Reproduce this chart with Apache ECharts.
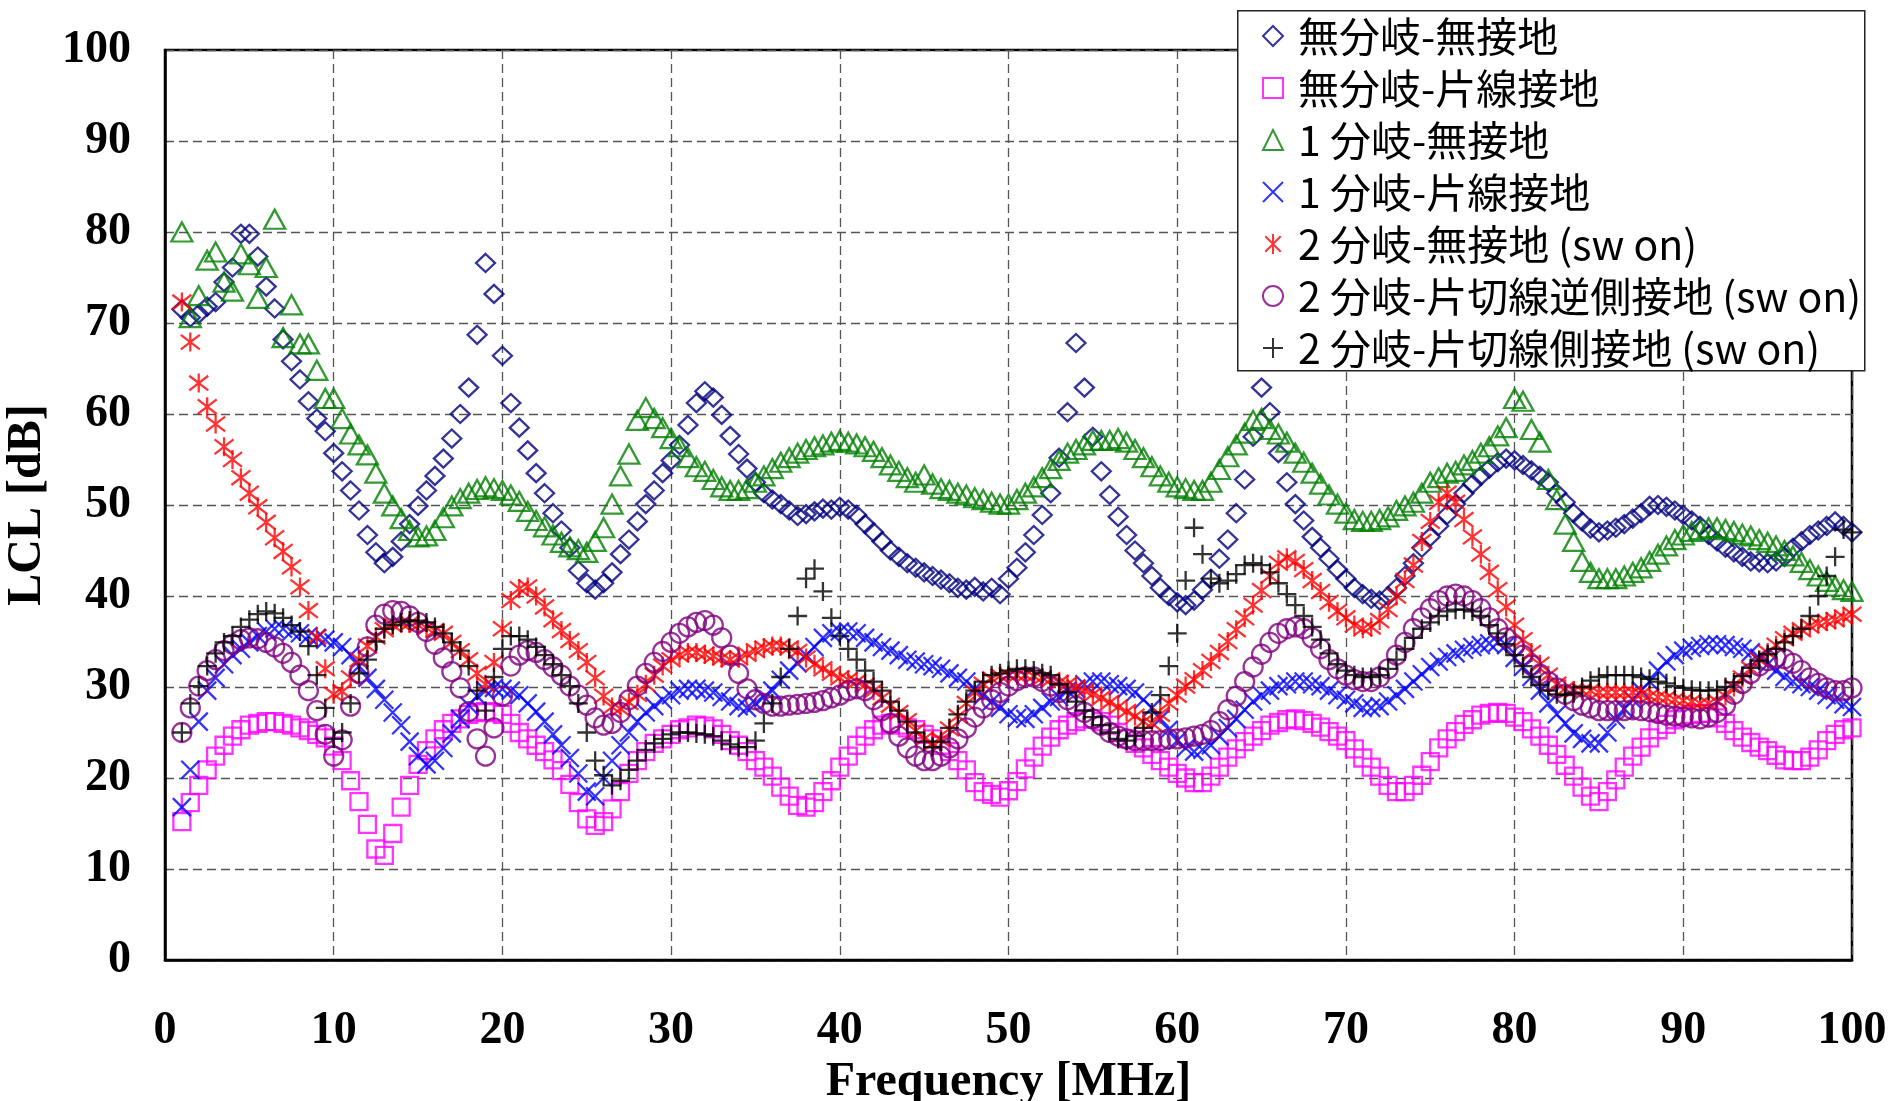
<!DOCTYPE html>
<html>
<head>
<meta charset="utf-8">
<script src="https://cdn.jsdelivr.net/npm/echarts@6/dist/echarts.min.js"></script>
<style>
html,body{margin:0;padding:0;background:#fff;}
#chart{width:1892px;height:1101px;}
</style>
</head>
<body>
<div id="chart"></div>
<script>
// Frequency sampling points (MHz)
const FREQ = [
1,1.5,2,2.5,3,3.5,4,4.5,5,5.5,
6,6.5,7,7.5,8,8.5,9,9.5,10,10.5,
11,11.5,12,12.5,13,13.5,14,14.5,15,15.5,
16,16.5,17,17.5,18,18.5,19,19.5,20,20.5,
21,21.5,22,22.5,23,23.5,24,24.5,25,25.5,
26,26.5,27,27.5,28,28.5,29,29.5,30,30.5,
31,31.5,32,32.5,33,33.5,34,34.5,35,35.5,
36,36.5,37,37.5,38,38.5,39,39.5,40,40.5,
41,41.5,42,42.5,43,43.5,44,44.5,45,45.5,
46,46.5,47,47.5,48,48.5,49,49.5,50,50.5,
51,51.5,52,52.5,53,53.5,54,54.5,55,55.5,
56,56.5,57,57.5,58,58.5,59,59.5,60,60.5,
61,61.5,62,62.5,63,63.5,64,64.5,65,65.5,
66,66.5,67,67.5,68,68.5,69,69.5,70,70.5,
71,71.5,72,72.5,73,73.5,74,74.5,75,75.5,
76,76.5,77,77.5,78,78.5,79,79.5,80,80.5,
81,81.5,82,82.5,83,83.5,84,84.5,85,85.5,
86,86.5,87,87.5,88,88.5,89,89.5,90,90.5,
91,91.5,92,92.5,93,93.5,94,94.5,95,95.5,
96,96.5,97,97.5,98,98.5,99,99.5,100
];

const NAMES = [
  '無分岐-無接地',
  '無分岐-片線接地',
  '1 分岐-無接地',
  '1 分岐-片線接地',
  '2 分岐-無接地 (sw on)',
  '2 分岐-片切線逆側接地 (sw on)',
  '2 分岐-片切線側接地 (sw on)'
];

const X_TICKS = [0,10,20,30,40,50,60,70,80,90,100];
const Y_TICKS = [0,10,20,30,40,50,60,70,80,90,100];

// 無分岐-無接地
const S_NOBR_NOGND = [
71.5,70.6,71.0,71.8,72.3,74.5,76.1,79.8,79.8,77.3,
74.0,71.6,68.2,65.8,63.8,61.4,59.5,58.1,55.7,53.7,
51.6,49.4,46.7,44.8,43.6,44.3,46.0,47.9,49.9,51.6,
53.2,55.1,57.3,60.0,62.9,68.7,76.6,73.2,66.4,61.2,
58.5,56.0,53.5,51.3,49.1,47.2,45.3,42.8,41.4,40.7,
41.4,42.6,44.6,46.2,48.2,50.1,51.6,53.5,54.9,56.6,
58.8,61.2,62.5,61.8,59.9,57.6,55.6,54.0,52.5,51.3,
50.6,50.1,49.4,48.8,49.0,49.3,49.6,49.5,49.8,49.5,
48.9,47.9,47.0,46.0,45.0,44.3,43.6,43.1,42.6,42.2,
41.8,41.4,40.9,40.7,41.0,40.5,40.9,40.2,41.9,43.1,
44.8,46.7,48.9,51.3,55.2,60.2,67.8,62.9,57.5,53.7,
51.1,48.7,46.7,45.0,43.6,42.2,40.9,40.0,39.3,39.0,
39.5,40.7,41.9,44.1,46.2,49.1,52.8,57.5,62.9,60.2,
55.7,52.5,50.1,48.3,46.5,45.3,44.1,42.9,41.9,40.9,
40.2,39.7,39.5,40.0,40.9,42.2,43.6,45.3,46.5,47.7,
48.9,50.1,51.3,52.3,53.2,54.0,54.7,55.1,54.9,54.4,
53.8,53.2,52.5,51.3,50.3,49.1,48.2,47.4,47.0,47.2,
47.5,47.9,48.5,49.1,49.9,50.0,49.8,49.4,48.9,48.3,
47.7,46.7,46.0,45.3,44.8,44.3,43.8,43.7,43.6,43.8,
44.3,45.3,46.0,46.7,47.2,47.7,48.2,47.7,47.0
];

// 無分岐-片線接地
const S_NOBR_1GND = [
15.2,17.3,19.2,20.9,22.4,23.6,24.6,25.3,25.8,26.0,
26.2,26.2,26.0,25.8,25.5,25.2,24.8,24.4,23.5,21.9,
19.7,17.4,14.9,12.2,11.5,13.9,16.8,19.2,21.5,23.0,
24.3,25.3,26.0,26.5,27.0,27.2,27.3,27.2,27.0,26.0,
25.0,24.3,23.6,22.9,22.0,20.8,19.3,17.3,15.5,14.8,
15.2,16.6,18.5,20.5,21.9,22.9,23.8,24.3,24.8,25.3,
25.5,25.8,25.7,25.4,24.8,24.1,23.6,22.9,21.9,21.2,
20.2,19.0,18.0,17.0,16.8,17.3,18.5,19.7,21.2,22.4,
23.6,24.6,25.3,25.8,26.0,25.8,25.5,25.3,24.8,24.3,
23.6,22.9,21.9,20.9,19.5,18.5,18.2,17.9,18.6,19.6,
21.0,22.3,23.5,24.5,25.3,25.8,26.2,26.5,26.5,26.2,
25.8,25.0,24.3,23.8,23.3,22.6,21.9,21.2,20.5,20.0,
19.5,19.5,20.2,21.2,22.3,23.2,24.0,24.6,25.2,25.8,
26.1,26.4,26.5,26.3,26.0,25.6,25.1,24.6,24.1,23.2,
22.2,21.2,20.2,19.2,18.5,18.5,19.2,20.3,21.8,23.3,
24.3,25.1,25.9,26.4,26.9,27.1,27.2,27.1,26.7,26.2,
25.4,24.6,23.6,22.6,21.4,20.2,19.0,18.0,17.4,18.5,
19.8,21.2,22.4,23.4,24.4,25.3,25.9,26.4,26.8,27.0,
27.1,27.1,26.6,26.0,25.2,24.5,23.9,23.4,23.0,22.5,
22.0,21.9,21.9,22.3,23.1,24.1,24.8,25.3,25.5
];

// 1分岐-無接地
const S_BR1_NOGND = [
80.0,70.6,73.0,76.9,77.8,74.5,73.5,77.6,76.4,72.7,
76.1,81.4,68.4,72.0,67.7,67.7,64.8,61.7,61.7,59.5,
57.8,56.6,55.5,53.5,51.3,49.9,48.5,47.2,46.5,46.6,
47.2,48.6,49.9,50.7,51.3,51.7,52.0,51.8,51.6,51.1,
50.4,49.3,48.3,47.6,46.7,45.9,45.4,45.1,44.8,46.0,
47.5,50.1,53.2,55.6,59.3,60.7,59.5,58.5,57.3,56.4,
55.2,54.2,53.7,52.8,52.0,51.6,51.6,51.8,52.5,53.2,
54.0,54.7,55.2,55.7,56.1,56.4,56.6,56.9,57.1,56.9,
56.7,56.4,55.9,55.2,54.4,53.7,53.0,52.5,53.3,52.3,
51.8,51.6,51.3,51.1,50.8,50.6,50.3,50.1,50.1,50.6,
51.3,52.0,53.0,54.0,54.9,55.7,56.1,56.6,57.1,57.1,
57.1,57.3,56.9,56.1,55.2,54.2,53.2,52.5,52.0,51.8,
51.6,51.6,52.5,53.9,55.3,56.6,57.9,59.3,59.5,58.3,
57.8,56.9,55.7,54.7,53.5,52.3,51.1,50.1,49.1,48.4,
48.2,48.2,48.4,48.7,49.4,49.9,50.3,51.3,52.5,53.0,
53.5,53.7,54.4,54.9,55.7,56.4,57.6,58.5,61.7,61.4,
58.3,56.9,52.8,50.6,47.9,46.0,43.8,42.6,41.9,41.9,
41.9,42.2,42.6,43.1,43.8,44.6,45.5,46.2,46.7,47.1,
47.3,47.5,47.5,47.3,47.1,46.8,46.6,46.2,45.9,45.5,
45.0,44.4,43.7,42.9,42.2,41.6,41.1,40.7,40.5
];

// 1分岐-片線接地
const S_BR1_1GND = [
16.8,20.9,26.2,29.6,31.0,32.5,33.5,34.2,34.9,35.6,
36.1,36.4,36.4,36.1,35.9,35.6,35.4,35.2,34.9,34.4,
33.5,32.3,31.0,29.8,28.6,27.2,25.8,24.0,22.4,21.5,
21.9,23.3,24.9,26.5,28.0,29.0,29.6,29.9,29.8,29.6,
29.1,28.2,27.3,26.2,24.8,23.6,22.2,20.5,18.5,18.0,
20.0,21.9,23.6,25.0,26.2,27.2,27.9,28.6,29.1,29.6,
29.8,29.8,29.6,29.4,28.9,28.4,27.9,27.7,28.2,28.9,
29.6,30.8,31.8,32.6,33.5,34.4,35.4,35.9,36.1,36.1,
35.9,35.4,34.9,34.4,34.0,33.5,33.0,32.8,32.5,32.3,
32.0,31.5,31.0,30.6,29.8,29.1,28.4,27.7,27.0,26.6,
26.5,27.0,27.7,28.4,28.9,29.6,29.8,30.3,30.6,30.6,
30.3,30.1,29.8,29.4,28.6,27.7,26.5,25.3,24.1,23.3,
22.9,23.1,23.6,24.6,25.5,26.5,27.5,28.4,29.1,29.6,
30.1,30.3,30.6,30.6,30.3,30.1,29.6,29.1,28.6,28.2,
27.7,27.7,27.9,28.4,29.1,29.8,30.6,31.4,32.2,32.8,
33.3,33.7,34.1,34.4,34.6,34.8,34.9,34.6,33.2,32.2,
31.1,29.6,28.2,27.0,26.0,24.9,24.3,23.8,23.8,25.0,
26.4,27.6,28.6,29.6,30.6,31.8,32.8,33.5,34.0,34.3,
34.5,34.7,34.7,34.6,34.4,34.2,33.8,33.2,32.5,31.8,
31.1,30.6,30.3,30.0,29.6,29.1,28.6,28.1,27.8
];

// 2分岐-無接地 (sw on)
const S_BR2_NOGND = [
72.3,67.9,63.4,60.8,58.9,56.4,55.0,53.0,51.3,49.8,
48.1,46.4,44.9,43.2,41.0,38.4,35.5,32.0,29.2,29.5,
31.0,33.0,34.5,35.5,36.3,36.8,37.0,37.0,36.8,36.5,
36.2,35.9,34.9,34.0,33.0,31.5,30.3,32.7,36.4,39.5,
40.8,41.0,40.0,38.8,37.4,36.2,35.1,34.0,32.7,31.0,
29.0,27.8,27.6,28.3,29.2,30.3,31.3,32.3,33.0,33.5,
33.8,33.8,33.6,33.4,33.2,33.0,33.2,33.6,34.0,34.3,
34.5,34.5,34.3,33.9,33.2,32.5,32.0,31.5,31.0,30.8,
30.6,30.2,29.6,28.8,28.0,27.2,26.3,25.2,24.3,23.8,
24.2,25.4,26.8,28.2,29.4,30.3,30.9,31.2,31.3,31.3,
31.3,31.2,31.0,30.8,30.5,30.3,30.0,29.6,29.2,28.8,
28.3,27.8,27.3,26.8,26.2,26.0,27.0,28.2,29.1,30.1,
30.8,31.8,32.8,33.8,35.0,36.3,37.6,39.0,40.6,42.2,
43.6,44.2,43.8,42.9,41.7,40.5,39.3,38.3,37.6,36.8,
36.4,36.6,37.3,38.5,40.0,41.7,43.4,46.0,48.2,50.3,
51.3,50.3,48.4,46.5,44.6,42.6,40.7,38.8,36.8,35.2,
33.8,32.5,31.3,30.3,29.8,29.6,29.6,29.6,29.4,29.4,
29.4,29.4,29.4,29.2,29.0,28.9,28.8,28.6,28.5,28.4,
28.2,28.2,28.4,29.0,30.0,31.0,32.0,33.0,33.8,34.6,
35.3,35.9,36.3,36.7,37.0,37.2,37.4,37.7,38.0
];

// 2分岐-片切線逆側接地 (sw on)
const S_BR2_OPPGND = [
25.0,27.7,30.1,31.8,33.0,34.0,34.7,35.2,35.4,35.3,
34.9,34.4,33.7,32.7,31.3,29.6,27.4,24.8,22.4,24.2,
27.9,31.5,34.4,36.8,38.0,38.4,38.3,37.8,37.1,36.1,
34.7,33.2,31.7,29.9,27.3,24.3,22.4,25.5,29.0,32.3,
33.5,34.0,33.8,33.0,32.2,31.3,30.1,29.1,28.0,26.6,
25.8,26.0,27.2,28.6,30.1,31.5,32.7,33.9,34.9,35.9,
36.6,37.1,37.3,36.8,35.4,33.5,31.5,29.8,28.6,28.2,
27.9,27.9,28.0,28.1,28.2,28.3,28.5,28.8,29.1,29.6,
29.8,29.6,28.6,27.4,26.0,24.6,23.3,22.4,21.9,21.9,
22.4,23.3,24.3,25.5,26.7,27.7,28.6,29.4,30.1,30.7,
31.1,31.1,30.6,30.1,29.4,28.6,27.9,27.2,26.5,25.8,
25.0,24.6,24.3,24.1,24.1,24.1,24.1,24.3,24.3,24.4,
24.6,24.8,25.2,26.2,27.5,29.0,30.6,32.2,33.6,34.9,
35.9,36.4,36.6,36.4,35.4,34.2,33.0,32.0,31.3,30.8,
30.6,30.6,31.1,32.0,33.5,34.9,36.4,37.6,38.6,39.5,
40.0,40.2,40.0,39.5,38.6,37.6,36.4,35.4,34.5,33.5,
32.4,31.4,30.6,29.9,29.2,28.5,28.0,27.7,27.4,27.4,
27.4,27.4,27.5,27.4,27.3,27.1,26.9,26.8,26.7,26.6,
26.5,26.7,27.2,28.0,29.2,30.4,31.5,32.3,32.9,33.2,
33.1,32.6,31.8,31.0,30.4,29.9,29.6,29.6,29.9
];

// 2分岐-片切線側接地 (sw on)
const S_BR2_SAMEGND = [
25.0,28.2,30.1,32.3,33.7,34.9,35.6,36.6,37.4,38.0,
38.3,38.1,37.6,36.8,36.1,34.5,31.3,27.7,24.3,25.0,
28.2,31.5,33.0,35.0,36.4,36.8,37.1,37.3,37.3,37.1,
36.6,35.9,34.9,34.0,32.3,29.6,27.4,31.1,34.2,35.6,
35.6,35.2,34.4,33.5,32.5,31.3,30.1,28.2,25.0,21.9,
20.3,19.2,19.7,20.9,21.9,23.1,23.8,24.3,24.8,25.0,
25.0,24.9,24.8,24.6,24.1,23.7,23.4,23.4,24.1,26.0,
28.2,31.1,34.2,37.8,41.9,43.0,40.5,37.6,35.6,34.2,
33.0,31.8,30.6,29.6,28.4,27.4,26.2,25.0,24.0,23.4,
24.0,25.5,27.0,28.4,29.6,30.6,31.3,31.5,31.8,32.0,
32.0,31.8,31.5,31.3,30.3,29.4,28.4,27.4,26.7,25.8,
25.0,24.3,24.1,24.6,25.5,27.2,29.1,32.3,35.9,41.7,
47.5,44.6,41.9,41.4,41.7,42.4,43.4,43.6,43.4,42.6,
41.4,40.2,39.0,37.8,36.6,35.2,33.7,32.5,31.8,31.3,
31.1,31.1,31.3,32.0,33.0,34.2,35.4,36.4,37.1,37.8,
38.3,38.5,38.5,38.3,37.8,36.8,35.9,34.7,33.5,32.3,
31.1,30.2,29.6,29.2,29.1,29.3,30.0,30.7,31.1,31.3,
31.3,31.3,31.3,31.1,30.9,30.6,30.4,30.1,29.9,29.7,
29.6,29.6,29.7,30.0,30.5,31.2,32.1,32.9,33.6,34.2,
34.9,35.6,36.4,37.8,40.0,42.2,44.3,47.3,47.0
];

const SERIES_DATA = [S_NOBR_NOGND, S_NOBR_1GND, S_BR1_NOGND, S_BR1_1GND, S_BR2_NOGND, S_BR2_OPPGND, S_BR2_SAMEGND];
const COLORS = ['#000080', '#FF00FF', '#008000', '#0000FF', '#FF0000', '#800080', '#000000'];
const SYMBOLS = [
  'diamond',
  'rect',
  'triangle',
  'path://M0,0L10,10M10,0L0,10',
  'path://M0,0L10,10M10,0L0,10M5,-1.5L5,11.5',
  'circle',
  'path://M5,0L5,10M0,5L10,5'
];
const SIZES = [[19,18], 17, [21,19], 18, 19, 19, 19];

function pairs(ys){ return ys.map((y,i)=>[FREQ[i], y]); }

const chart = echarts.init(document.getElementById('chart'), null, {renderer:'canvas'});

const series = SERIES_DATA.map((d, k) => ({
  name: NAMES[k],
  type: 'scatter',
  data: pairs(d),
  symbol: SYMBOLS[k],
  symbolSize: SIZES[k],
  itemStyle: {color: 'rgba(0,0,0,0)', borderColor: COLORS[k], borderWidth: 2.3},
  emphasis: {disabled: true},
  z: 2 + k*0.01
}));

const SERIF = '"Liberation Serif","Times New Roman",serif';
const CJK = '"Noto Sans CJK JP","Noto Sans CJK SC",sans-serif';

const option = {
  animation: false,
  backgroundColor: '#fff',
  grid: {left:165, right:40, top:50, bottom:141, show:true, borderColor:'#000', borderWidth:2.5, backgroundColor:'#fff',
         containLabel:false, outerBoundsMode:'none'},
  xAxis: {
    type: 'value', min: X_TICKS[0], max: X_TICKS[X_TICKS.length-1], interval: 10,
    name: 'Frequency [MHz]', nameLocation: 'middle', nameGap: 87,
    nameTextStyle: {fontFamily: SERIF, fontWeight: 'bold', fontSize: 48, color:'#000'},
    axisLine: {show:true, lineStyle:{color:'#000', width:2.5}},
    axisTick: {show:false},
    axisLabel: {fontFamily: SERIF, fontWeight:'bold', fontSize: 46, color:'#000', margin: 48},
    splitLine: {show:true, lineStyle:{type:[9,5], color:'#555', width:1.3}}
  },
  yAxis: {
    type: 'value', min: Y_TICKS[0], max: Y_TICKS[Y_TICKS.length-1], interval: 10,
    name: 'LCL [dB]', nameLocation: 'middle', nameGap: 104, nameRotate: 90,
    nameTextStyle: {fontFamily: SERIF, fontWeight: 'bold', fontSize: 48, color:'#000'},
    axisLine: {show:true, lineStyle:{color:'#000', width:2.5}},
    axisTick: {show:false},
    axisLabel: {fontFamily: SERIF, fontWeight:'bold', fontSize: 46, color:'#000', margin: 34},
    splitLine: {show:true, lineStyle:{type:[9,5], color:'#555', width:1.3}}
  },
  graphic: [{
    type: 'rect', z: 90, left: 1237, top: 10,
    shape: {width: 627, height: 360},
    style: {fill:'#fff', stroke:'#222', lineWidth:1.5}
  }],
  legend: {
    z: 100, orient: 'vertical', left: 1262, top: 13, padding: 0,
    itemWidth: 20, itemHeight: 20, itemGap: 6,
    data: NAMES,
    textStyle: {fontFamily: CJK, fontSize: 41, color:'#000', lineHeight: 46, padding:[0,0,0,10]},
    selectedMode: false
  },
  series: series
};
chart.setOption(option);
</script>
</body>
</html>
